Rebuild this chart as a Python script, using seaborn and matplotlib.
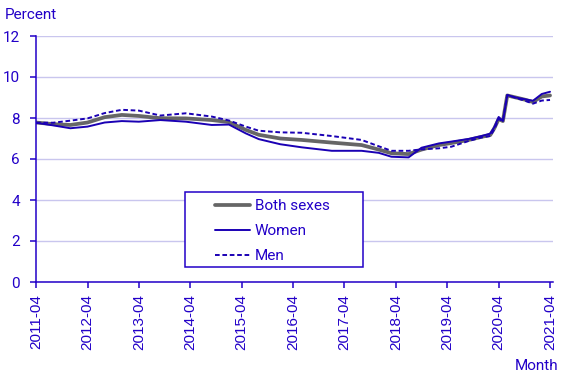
import pandas as pd
import matplotlib
matplotlib.use("Agg")
import matplotlib.pyplot as plt
import matplotlib.dates as mdates
from matplotlib.patches import Rectangle
import seaborn as sns

# data (percent, selected months)
months = ["2011-04", "2011-08", "2011-12", "2012-04", "2012-08", "2012-12",
          "2013-04", "2013-09", "2014-03", "2014-09", "2015-01", "2015-05",
          "2015-08", "2016-01", "2016-06", "2017-01", "2017-08", "2017-12",
          "2018-03", "2018-07", "2018-10", "2019-02", "2019-05", "2019-09",
          "2019-12", "2020-02", "2020-03", "2020-04", "2020-05", "2020-06",
          "2020-08", "2020-10", "2020-12", "2021-02", "2021-04"]

both_sexes = [7.78, 7.70, 7.66, 7.78, 8.04, 8.15, 8.10, 7.99, 7.98, 7.90,
              7.80, 7.42, 7.18, 7.00, 6.93, 6.80, 6.68, 6.46, 6.28, 6.24,
              6.46, 6.68, 6.78, 6.93, 7.08, 7.17, 7.50, 7.95, 7.85, 9.10,
              9.00, 8.90, 8.78, 9.05, 9.10]

women = [7.77, 7.64, 7.50, 7.58, 7.78, 7.85, 7.82, 7.90, 7.82, 7.66,
         7.68, 7.25, 6.97, 6.72, 6.57, 6.40, 6.40, 6.30, 6.11, 6.08,
         6.55, 6.76, 6.85, 6.98, 7.12, 7.24, 7.55, 8.05, 7.85, 9.12,
         9.00, 8.92, 8.84, 9.17, 9.28]

men = [7.77, 7.77, 7.87, 7.98, 8.24, 8.40, 8.36, 8.12, 8.23, 8.07,
       7.88, 7.58, 7.38, 7.30, 7.28, 7.12, 6.93, 6.62, 6.40, 6.40,
       6.47, 6.52, 6.60, 6.88, 7.05, 7.12, 7.45, 7.95, 7.85, 9.12,
       8.98, 8.85, 8.70, 8.85, 8.88]

yticks = [0, 2, 4, 6, 8, 10, 12]

df = pd.DataFrame({"month": pd.to_datetime(months),
                   "Both sexes": both_sexes, "Women": women, "Men": men})

blue = "#2200c8"
line_blue = "#1a00b4"
grey = "#666666"

sns.set_style("white")
plt.rcParams["font.family"] = ["Roboto", "DejaVu Sans"]

fig = plt.figure(figsize=(5.67, 3.78), dpi=100)
ax = fig.add_axes([36 / 567, 96 / 378, 517 / 567, 246 / 378])

sns.lineplot(data=df, x="month", y="Both sexes", ax=ax, color=grey, lw=2.7, label="Both sexes")
sns.lineplot(data=df, x="month", y="Women", ax=ax, color=line_blue, lw=1.4, label="Women")
sns.lineplot(data=df, x="month", y="Men", ax=ax, color=line_blue, lw=1.4, ls=(0, (2.4, 1.4)), label="Men")

ax.set_ylim(0, 12)
ax.set_yticks(yticks)
start = pd.Timestamp("2011-04-01")
ax.set_xlim(mdates.date2num(start), mdates.date2num(start) + 120.7 * 30.44)
ax.xaxis.set_major_locator(mdates.MonthLocator(bymonth=4))
ax.xaxis.set_major_formatter(mdates.DateFormatter("%Y-%m"))

ax.set_xlabel("")
ax.set_ylabel("")
ax.grid(axis="y", color="#c9c6ee", lw=1)
ax.grid(axis="x", visible=False)
for s in ["top", "right"]:
    ax.spines[s].set_visible(False)
for s in ["left", "bottom"]:
    ax.spines[s].set_color(blue)
    ax.spines[s].set_linewidth(1.1)

ax.tick_params(axis="y", colors=blue, labelsize=11, length=4.5, width=1.1, pad=7, left=True)
ax.tick_params(axis="x", colors=blue, labelsize=11, length=4.5, width=1.1, pad=4, bottom=True,
               labelrotation=90)
for lab in ax.get_xticklabels():
    lab.set_family(["Liberation Sans", "DejaVu Sans"])

# legend box drawn as its own frame, entries placed inside it
box = Rectangle((185 / 567, 111 / 378), 178 / 567, 75 / 378, transform=fig.transFigure,
                facecolor="white", edgecolor=blue, lw=1.1, zorder=4)
ax.add_patch(box)
leg = ax.legend(loc="upper left", bbox_to_anchor=(215 / 567, 1 - 199 / 378),
                bbox_transform=fig.transFigure, frameon=False,
                fontsize=11, handlelength=2.3, borderpad=0, labelspacing=0.72,
                borderaxespad=0, handletextpad=0.3)
leg.set_zorder(5)
for t in leg.get_texts():
    t.set_color(blue)

fig.text(5 / 567, 1 - 15 / 378, "Percent", color=blue, fontsize=11, va="center", ha="left")
fig.text(558 / 567, 1 - 366 / 378, "Month", color=blue, fontsize=11, va="center", ha="right")

fig.savefig("out.png", dpi=100)
